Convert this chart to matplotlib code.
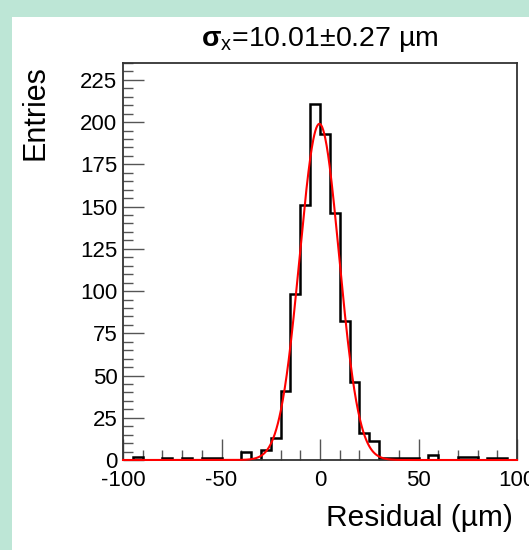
import numpy as np
import matplotlib
matplotlib.use("Agg")
import matplotlib.pyplot as plt
from matplotlib.ticker import MultipleLocator
from matplotlib.patches import Rectangle

plt.rcParams['font.family'] = ['Liberation Sans', 'DejaVu Sans']
plt.rcParams['mathtext.fontset'] = 'custom'
plt.rcParams['mathtext.rm'] = 'Liberation Sans'
plt.rcParams['mathtext.bf'] = 'Liberation Sans:bold'
plt.rcParams['mathtext.it'] = 'Liberation Sans:italic'
plt.rcParams['axes.unicode_minus'] = False

# ---- data ----
bin_low = -100
bin_high = 100
bin_width = 5
counts = [0, 2, 0, 0, 1, 0, 1, 0, 1, 1,
          0, 0, 5, 0, 6, 13, 41, 98, 151, 211,
          193, 146, 82, 46, 16, 11, 1, 1, 1, 1,
          0, 3, 0, 0, 2, 2, 0, 1, 1, 0]
fit_amp = 199.0
fit_mean = -0.3
fit_sigma = 10.01
fit_sigma_err = 0.27
title_text = r'$\mathbf{\sigma}_\mathrm{x}$' + '=%.2f\u00b1%.2f \u00b5m' % (fit_sigma, fit_sigma_err)
xlabel_text = 'Residual (\u00b5m)'
ylabel_text = 'Entries'

edges = np.arange(bin_low, bin_high + bin_width / 2, bin_width)

W, H = 529, 550
fig = plt.figure(figsize=(W / 100, H / 100), dpi=100)
fig.patch.set_facecolor('#bde6d6')
fig.patches.append(Rectangle((12 / W, 0), 1 - 12 / W, 1 - 17 / H,
                             transform=fig.transFigure, facecolor='white',
                             edgecolor='none', zorder=-10))

L, R, T, B = 123, 517, 63, 460
ax = fig.add_axes([L / W, (H - B) / H, (R - L) / W, (B - T) / H])
ax.set_zorder(1)
ax.set_facecolor('white')

ax.stairs(counts, edges, baseline=0, fill=False, color='black', lw=1.8, zorder=2)
xf = np.linspace(bin_low, bin_high, 800)
yf = fit_amp * np.exp(-0.5 * ((xf - fit_mean) / fit_sigma) ** 2)
ax.plot(xf, yf, color='#ff0000', lw=1.5, zorder=3, clip_on=False)

ax.set_xlim(bin_low, bin_high)
ax.set_ylim(0, 235)

ax.xaxis.set_major_locator(MultipleLocator(50))
ax.xaxis.set_minor_locator(MultipleLocator(10))
ax.yaxis.set_major_locator(MultipleLocator(25))
ax.yaxis.set_minor_locator(MultipleLocator(5))
ax.tick_params(which='major', direction='in', length=15, width=1, color='#555555',
               labelsize=16, top=False, right=False)
ax.tick_params(which='minor', direction='in', length=7.5, width=1, color='#555555',
               top=False, right=False)
ax.tick_params(axis='x', pad=7)
ax.tick_params(axis='y', pad=4)
for s in ax.spines.values():
    s.set_color('#333333')
    s.set_linewidth(1.3)

fig.text(513 / W, 1 - 518 / H, xlabel_text, ha='right', va='center', fontsize=21.5)
fig.text(35 / W, 1 - 65 / H, ylabel_text, ha='center', va='top', rotation=90, fontsize=22)
fig.text(320 / W, 1 - 40 / H, title_text, ha='center', va='center', fontsize=20.5)

fig.savefig('out.png', dpi=100, facecolor=fig.get_facecolor())
